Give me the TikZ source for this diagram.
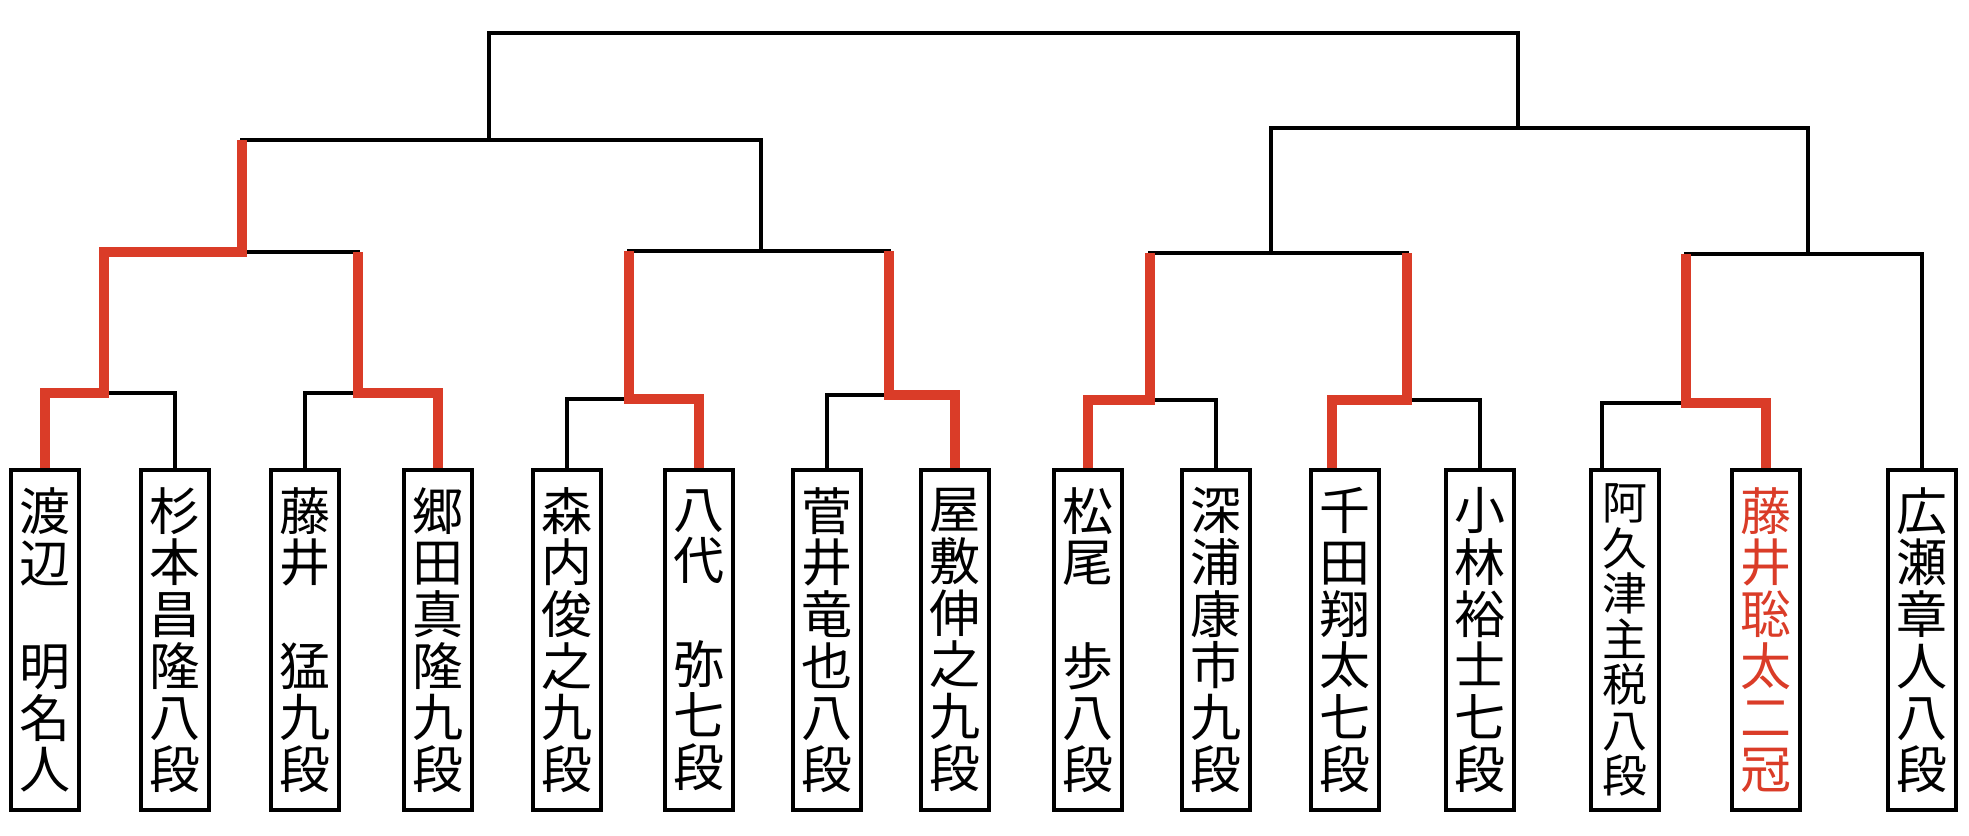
\documentclass[tikz,border=0pt]{standalone}
\usepackage{fontspec}
\usepackage{xcolor}
\usetikzlibrary{backgrounds}
\newfontfamily\jpfont{Noto Sans CJK JP}
\definecolor{winred}{RGB}{218,60,40}

\begin{document}
\begin{tikzpicture}[
	%Environment config
	x=1pt, y=-1pt,
	%Environment styles
	BoxCfg/.style={
		draw,
		line width=3.5pt,
		minimum width=68pt,
		minimum height=340pt,
		inner sep=0pt,
		align=center,
		font=\jpfont\fontsize{51}{51.7}\selectfont
	},
	SmallCfg/.style={
		font=\jpfont\fontsize{45}{45.5}\selectfont
	},
	LineCfg/.style={
		draw=black,
		line width=4.7pt
	},
	WinCfg/.style={
		draw=winred,
		line width=10pt
	}
	]
	\useasboundingbox (0,0) rectangle (1969,835);
	\path
	(45,640) node[BoxCfg](P1){渡\\辺\\　\\明\\名\\人}
	(175,640) node[BoxCfg](P2){杉\\本\\昌\\隆\\八\\段}
	(305,640) node[BoxCfg](P3){藤\\井\\　\\猛\\九\\段}
	(438,640) node[BoxCfg](P4){郷\\田\\真\\隆\\九\\段}
	(567,640) node[BoxCfg](P5){森\\内\\俊\\之\\九\\段}
	(699,640) node[BoxCfg](P6){八\\代\\　\\弥\\七\\段}
	(827,640) node[BoxCfg](P7){菅\\井\\竜\\也\\八\\段}
	(955,640) node[BoxCfg](P8){屋\\敷\\伸\\之\\九\\段}
	(1088,640) node[BoxCfg](P9){松\\尾\\　\\歩\\八\\段}
	(1216,640) node[BoxCfg](P10){深\\浦\\康\\市\\九\\段}
	(1345,640) node[BoxCfg](P11){千\\田\\翔\\太\\七\\段}
	(1480,640) node[BoxCfg](P12){小\\林\\裕\\士\\七\\段}
	(1625,640) node[BoxCfg,SmallCfg](P13){阿\\久\\津\\主\\税\\八\\段}
	(1766,640) node[BoxCfg,text=winred](P14){藤\\井\\聡\\太\\二\\冠}
	(1922,640) node[BoxCfg](P15){広\\瀬\\章\\人\\八\\段};

	\path
	(104,393) coordinate (J1)
	(358,393) coordinate (J2)
	(629,399) coordinate (J3)
	(889,395) coordinate (J4)
	(1150,400) coordinate (J5)
	(1407,400) coordinate (J6)
	(1686,403) coordinate (J7)
	(242,252) coordinate (K1)
	(761,251) coordinate (K2)
	(1271,253) coordinate (K3)
	(1808,254) coordinate (K4)
	(489,140) coordinate (L1)
	(1518,128) coordinate (L2)
	(1000,33) coordinate (T);

	\begin{scope}[on background layer]
	\draw[LineCfg]
	(P1.north) |- (J1) -| (P2.north)
	(P3.north) |- (J2) -| (P4.north)
	(P5.north) |- (J3) -| (P6.north)
	(P7.north) |- (J4) -| (P8.north)
	(P9.north) |- (J5) -| (P10.north)
	([xshift=-13pt]P11.north) |- (J6) -| (P12.north)
	([xshift=-23pt]P13.north) |- (J7) -| (P14.north)
	(J1) |- (K1) -| (J2)
	(J3) |- (K2) -| (J4)
	(J5) |- (K3) -| (J6)
	(J7) |- (K4) -| (P15.north)
	(K1) |- (L1) -| (K2)
	(K3) |- (L2) -| (K4)
	(L1) |- (T) -| (L2);
	% winners
	\draw[WinCfg]
	(P1.north) |- (J1) |- (K1) -- (K1 |- L1)
	(P4.north) |- (J2) -- (J2 |- K1)
	(P6.north) |- (J3) -- (J3 |- K2)
	(P8.north) |- (J4) -- (J4 |- K2)
	(P9.north) |- (J5) -- (J5 |- K3)
	([xshift=-13pt]P11.north) |- (J6) -- (J6 |- K3)
	(P14.north) |- (J7) -- (J7 |- K4);
	\end{scope}
\end{tikzpicture}
\end{document}
